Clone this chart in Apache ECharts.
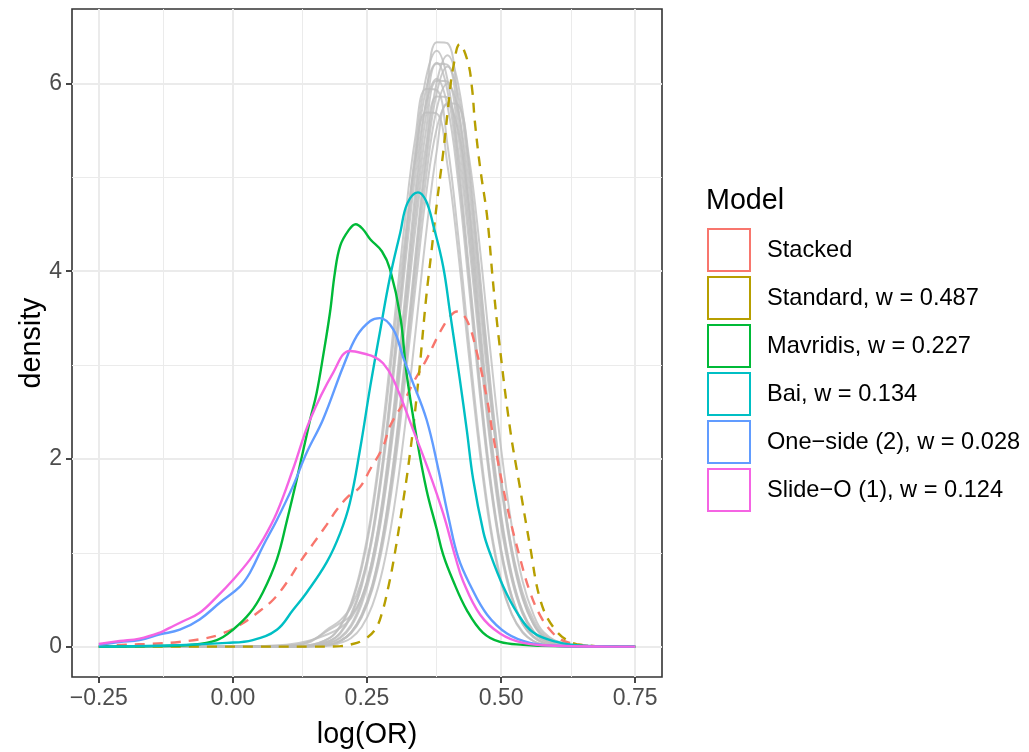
<!DOCTYPE html>
<html>
<head>
<meta charset="utf-8">
<script src="https://cdn.jsdelivr.net/npm/echarts@6/dist/echarts.min.js"></script>
<style>
html,body{margin:0;padding:0;background:#ffffff;}
#chart{width:1029px;height:752px;}
</style>
</head>
<body>
<div id="chart"></div>
<script>
// ---------- axis ticks ----------
const xMajor = [-0.25, 0, 0.25, 0.5, 0.75];
const xMinor = [-0.125, 0.125, 0.375, 0.625];
const yMajor = [0, 2, 4, 6];
const yMinor = [1, 3, 5];

// ---------- legend ----------
const modelNames = ['Stacked', 'Standard, w = 0.487', 'Mavridis, w = 0.227', 'Bai, w = 0.134',
  'One\u2212side (2), w = 0.028', 'Slide\u2212O (1), w = 0.124'];
const modelColors = ['#F8766D', '#B79F00', '#00BA38', '#00BFC4', '#619CFF', '#F564E3'];
const modelDashed = [true, true, false, false, false, false];

// ---------- coloured density curves ----------
const stackedX = [-0.25,-0.2,-0.15,-0.1,-0.05,-0.024,0.013,0.05,0.075,0.1,0.125,0.15,0.175,0.194,0.215,0.237,0.256,0.28,0.293,0.318,0.336,0.36,0.386,0.405,0.418,0.436,0.455,0.474,0.485,0.511,0.535,0.554,0.573,0.591,0.61,0.629,0.66,0.7,0.75];
const stackedY = [0.0,0.02,0.03,0.05,0.09,0.13,0.23,0.38,0.5,0.68,0.9,1.1,1.3,1.46,1.6,1.7,1.89,2.13,2.35,2.6,2.81,3.05,3.35,3.52,3.57,3.48,3.13,2.63,2.25,1.5,0.95,0.58,0.33,0.18,0.08,0.04,0.01,0,0];

const standardX = [-0.25,0.0,0.15,0.2,0.218,0.243,0.265,0.278,0.29,0.299,0.312,0.33,0.346,0.36,0.37,0.381,0.392,0.405,0.41,0.423,0.438,0.446,0.451,0.461,0.474,0.485,0.496,0.517,0.535,0.554,0.573,0.597,0.629,0.666,0.7,0.75];
const standardY = [0,0,0,0.005,0.02,0.07,0.18,0.36,0.64,0.9,1.35,2.05,2.85,3.7,4.2,4.76,5.26,5.94,6.15,6.42,6.23,5.94,5.6,5.1,4.58,3.88,3.27,2.31,1.7,1.07,0.5,0.21,0.05,0.01,0,0];

const mavridisX = [-0.25,-0.15,-0.075,-0.03,0.0,0.032,0.056,0.082,0.101,0.119,0.144,0.156,0.168,0.181,0.19,0.2,0.215,0.229,0.242,0.256,0.278,0.293,0.312,0.324,0.343,0.361,0.38,0.392,0.41,0.436,0.466,0.498,0.541,0.6,0.75];
const mavridisY = [0,0.005,0.02,0.07,0.18,0.36,0.58,0.93,1.35,1.78,2.42,2.7,3.09,3.56,3.98,4.27,4.43,4.50,4.45,4.34,4.21,4.02,3.52,2.9,2.21,1.67,1.25,0.98,0.71,0.39,0.15,0.05,0.02,0.005,0];

const baiX = [-0.25,-0.136,-0.011,0.037,0.082,0.112,0.138,0.175,0.2,0.218,0.237,0.256,0.274,0.293,0.312,0.325,0.345,0.36,0.374,0.392,0.405,0.423,0.436,0.448,0.467,0.479,0.504,0.53,0.56,0.604,0.653,0.75];
const baiY = [0,0.01,0.04,0.07,0.18,0.39,0.58,0.9,1.21,1.53,2.1,2.77,3.35,3.94,4.41,4.72,4.84,4.75,4.48,4.05,3.55,2.85,2.31,1.78,1.22,1.0,0.64,0.36,0.15,0.05,0.01,0];

const onesideX = [-0.25,-0.211,-0.174,-0.136,-0.099,-0.062,-0.024,0.013,0.032,0.056,0.082,0.112,0.137,0.168,0.206,0.231,0.256,0.274,0.299,0.317,0.333,0.361,0.383,0.403,0.42,0.442,0.474,0.511,0.554,0.6,0.75];
const onesideY = [0.02,0.05,0.07,0.13,0.18,0.29,0.47,0.64,0.79,1.07,1.35,1.71,2.06,2.42,2.99,3.31,3.47,3.5,3.38,3.09,2.85,2.42,1.89,1.35,0.95,0.66,0.34,0.14,0.04,0.01,0];

const slideX = [-0.25,-0.211,-0.174,-0.136,-0.118,-0.093,-0.062,-0.03,0.0,0.032,0.056,0.082,0.112,0.144,0.187,0.218,0.252,0.262,0.28,0.299,0.336,0.364,0.392,0.415,0.429,0.461,0.498,0.541,0.6,0.75];
const slideY = [0.03,0.06,0.085,0.15,0.2,0.27,0.36,0.53,0.71,0.93,1.14,1.43,1.89,2.42,2.92,3.15,3.11,3.09,3.02,2.85,2.31,1.89,1.42,0.95,0.7,0.34,0.14,0.04,0.01,0];

// ---------- grey posterior draws ----------
const grayX = [-0.25,0.0,0.1,0.14,0.18,0.2,0.22,0.24,0.26,0.28,0.30,0.32,0.34,0.36,0.38,0.40,0.42,0.44,0.46,0.48,0.50,0.52,0.54,0.56,0.58,0.62,0.66,0.75];
const grayDraws = [
  [0,0,0,0.005,0.04,0.10,0.23,0.49,0.93,1.61,2.55,3.68,4.84,5.82,6.44,6.43,5.76,4.71,3.48,2.33,1.41,0.77,0.38,0.17,0.07,0.01,0,0],
  [0,0,0,0.01,0.06,0.15,0.34,0.67,1.21,2.01,3.05,4.20,5.28,6.06,6.35,6.04,5.19,4.03,2.84,1.80,1.04,0.54,0.25,0.11,0.04,0.004,0,0],
  [0,0,0.02,0.06,0.14,0.20,0.30,0.52,0.93,1.57,2.48,3.58,4.71,5.66,6.21,6.20,5.61,4.58,3.38,2.27,1.37,0.75,0.37,0.16,0.07,0.01,0,0],
  [0,0,0,0.003,0.02,0.06,0.15,0.33,0.65,1.18,1.96,2.97,4.08,5.14,5.90,6.18,5.88,5.05,3.92,2.76,1.76,1.01,0.53,0.25,0.11,0.014,0.001,0],
  [0,0,0.01,0.05,0.18,0.25,0.33,0.52,0.88,1.52,2.41,3.48,4.58,5.50,6.03,6.02,5.45,4.45,3.29,2.20,1.33,0.73,0.36,0.16,0.07,0.01,0,0],
  [0,0,0,0.003,0.02,0.06,0.15,0.32,0.63,1.15,1.90,2.88,3.96,4.99,5.73,6.00,5.71,4.90,3.81,2.68,1.71,0.98,0.51,0.24,0.10,0.014,0.001,0],
  [0,0,0.003,0.013,0.09,0.21,0.44,0.83,1.43,2.27,3.28,4.31,5.19,5.69,5.68,5.13,4.20,3.10,2.08,1.25,0.68,0.34,0.15,0.06,0.02,0.002,0,0],
  [0,0,0,0.003,0.02,0.06,0.14,0.31,0.61,1.10,1.83,2.78,3.81,4.81,5.52,5.78,5.50,4.72,3.67,2.62,1.75,1.05,0.58,0.29,0.13,0.03,0.005,0],
  [0,0,0.01,0.04,0.20,0.28,0.42,0.70,1.19,1.97,2.99,4.11,5.17,5.94,6.22,5.92,5.08,3.95,2.78,1.76,1.02,0.53,0.25,0.11,0.04,0.004,0,0],
  [0,0,0,0.005,0.04,0.09,0.21,0.45,0.85,1.48,2.34,3.38,4.44,5.34,5.86,5.85,5.29,4.32,3.19,2.14,1.29,0.71,0.35,0.16,0.06,0.01,0,0],
  [0,0,0,0.01,0.06,0.14,0.32,0.64,1.15,1.92,2.91,4.00,5.03,5.78,6.05,5.76,4.95,3.84,2.71,1.72,0.99,0.51,0.24,0.10,0.04,0.004,0,0],
  [0,0,0,0.003,0.02,0.06,0.15,0.34,0.66,1.20,2.00,3.03,4.16,5.24,6.01,6.30,5.99,5.15,4.00,2.81,1.79,1.03,0.54,0.25,0.11,0.014,0.001,0],
  [0,0,0.003,0.014,0.09,0.22,0.46,0.87,1.49,2.37,3.42,4.50,5.42,5.94,5.93,5.35,4.38,3.24,2.17,1.30,0.71,0.35,0.16,0.06,0.02,0.002,0,0],
  [0,0,0,0.002,0.01,0.04,0.09,0.21,0.44,0.84,1.46,2.31,3.33,4.39,5.28,5.79,5.77,5.22,4.27,3.15,2.11,1.28,0.70,0.35,0.15,0.02,0.002,0]
];

// ---------- build ----------
const FONT = 'Liberation Sans, Arial, Helvetica, sans-serif';
function pairs(xs, ys) { return xs.map((x, i) => [x, ys[i]]); }
const modelX = [stackedX, standardX, mavridisX, baiX, onesideX, slideX];
const modelY = [stackedY, standardY, mavridisY, baiY, onesideY, slideY];

const series = [];
const gridData = [];
xMajor.forEach(v => gridData.push({ xAxis: v, lineStyle: { color: '#EBEBEB', width: 2, type: 'solid' } }));
xMinor.forEach(v => gridData.push({ xAxis: v, lineStyle: { color: '#EBEBEB', width: 1, type: 'solid' } }));
yMajor.forEach(v => gridData.push({ yAxis: v, lineStyle: { color: '#EBEBEB', width: 2, type: 'solid' } }));
yMinor.forEach(v => gridData.push({ yAxis: v, lineStyle: { color: '#EBEBEB', width: 1, type: 'solid' } }));
series.push({
  type: 'line', name: '_grid', data: [], silent: true, z: 0,
  markLine: {
    z: 0, silent: true, symbol: ['none', 'none'], label: { show: false },
    emphasis: { disabled: true }, animation: false, data: gridData
  }
});
grayDraws.forEach((ys, k) => {
  series.push({
    type: 'line', name: '_draw' + k, data: pairs(grayX, ys), z: 2,
    showSymbol: false, symbol: 'none', smooth: 0.4, silent: true,
    lineStyle: { color: 'rgba(190,190,190,0.8)', width: 2 }
  });
});
modelNames.forEach((n, i) => {
  series.push({
    type: 'line', name: n, data: pairs(modelX[i], modelY[i]), z: 3 + i,
    showSymbol: false, symbol: 'none', smooth: 0.4, silent: true,
    itemStyle: { color: modelColors[i] },
    lineStyle: { color: modelColors[i], width: 2.4, type: modelDashed[i] ? [10, 8] : 'solid' }
  });
});

const chart = echarts.init(document.getElementById('chart'), null, { renderer: 'canvas' });
chart.setOption({
  animation: false,
  backgroundColor: '#ffffff',
  textStyle: { fontFamily: FONT },
  title: {
    text: 'Model', left: 706, top: 187, padding: 0,
    textStyle: { fontSize: 28.7, fontWeight: 'normal', color: '#000000', fontFamily: FONT }
  },
  legend: {
    orient: 'vertical', left: 707, top: 228, padding: 0,
    icon: 'rect', itemWidth: 42, itemHeight: 42, itemGap: 4,
    selectedMode: false,
    data: modelNames.map((n, i) => ({
      name: n, icon: 'rect',
      itemStyle: { color: '#ffffff', borderColor: modelColors[i], borderWidth: 2, borderType: 'solid' }
    })),
    textStyle: { fontSize: 23.6, color: '#000000', fontFamily: FONT, padding: [0, 0, 0, 12] }
  },
  grid: {
    left: 72, top: 9, width: 590, height: 668, show: true,
    outerBoundsMode: 'none', containLabel: false,
    borderColor: '#333333', borderWidth: 1.6, backgroundColor: 'transparent'
  },
  xAxis: {
    type: 'value', min: -0.3, max: 0.8,
    name: 'log(OR)', nameLocation: 'middle', nameGap: 44, nameMoveOverlap: false,
    nameTextStyle: { fontSize: 28.7, color: '#000000', fontFamily: FONT },
    axisLine: { show: false, onZero: false },
    splitLine: { show: false },
    axisTick: { show: true, length: 6, lineStyle: { color: '#333333', width: 1.8 }, customValues: xMajor },
    axisLabel: {
      customValues: xMajor, margin: 10, fontSize: 23, color: '#4D4D4D', fontFamily: FONT,
      formatter: v => (v < 0 ? '\u2212' : '') + Math.abs(v).toFixed(2)
    }
  },
  yAxis: {
    type: 'value', min: -0.3235, max: 6.7935,
    name: 'density', nameLocation: 'middle', nameGap: 25, nameMoveOverlap: false,
    nameTextStyle: { fontSize: 28.7, color: '#000000', fontFamily: FONT },
    axisLine: { show: false, onZero: false },
    splitLine: { show: false },
    axisTick: { show: true, length: 6, lineStyle: { color: '#333333', width: 1.8 }, customValues: yMajor },
    axisLabel: {
      customValues: yMajor, margin: 10, fontSize: 23, color: '#4D4D4D', fontFamily: FONT,
      formatter: v => String(v)
    }
  },
  series: series
});
</script>
</body>
</html>
